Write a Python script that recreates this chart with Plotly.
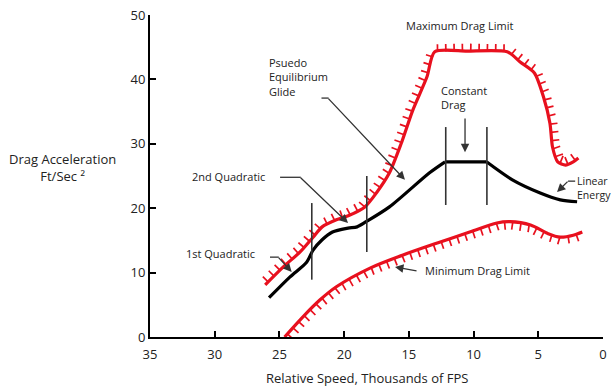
import math
import plotly.graph_objects as go

# ---------------- data ----------------
max_x = [26.1, 24.7, 23.4, 22.4, 21.7, 20.6, 19.6, 18.4, 17.5, 16.5, 15.6, 14.7, 13.6, 13.0, 10.5, 7.4, 6.4, 5.3, 4.6, 4.1, 3.9, 3.5, 2.9, 2.3, 1.9]
max_y = [8.1, 10.9, 13.2, 15.5, 17.1, 18.2, 18.9, 20.2, 22.4, 25.5, 30.0, 35.2, 40.4, 44.3, 44.4, 44.3, 42.7, 41.0, 37.3, 33.2, 29.5, 27.2, 26.7, 27.2, 27.8]

min_x = [24.6, 23.2, 21.9, 20.6, 18.0, 15.5, 12.8, 10.3, 8.2, 7.2, 5.6, 4.3, 3.3, 2.3, 1.6]
min_y = [0.0, 3.1, 5.7, 7.8, 10.7, 12.7, 14.6, 16.3, 17.7, 17.9, 17.4, 16.1, 15.5, 15.8, 16.3]

glide_x = [25.8, 24.2, 22.9, 22.4, 21.7, 20.9, 19.7, 19.0, 18.3, 16.5, 13.4, 12.2]
glide_y = [6.1, 9.3, 11.6, 13.5, 15.1, 16.3, 16.9, 17.1, 17.9, 20.2, 25.5, 27.2]
const_x = [12.2, 9.0]
const_y = [27.2, 27.2]
energy_x = [9.0, 7.0, 4.9, 3.3, 2.0]
energy_y = [27.2, 24.4, 22.4, 21.3, 21.0]

# phase boundaries (x, y_bottom, y_top)
bound_x = [22.5, 18.25, 12.15, 8.97]
bound_y0 = [8.9, 13.2, 20.5, 20.5]
bound_y1 = [20.8, 25.0, 32.6, 32.6]

x_ticks = [35, 30, 25, 20, 15, 10, 5, 0]
y_ticks = [0, 10, 20, 30, 40, 50]

# ---------------- layout geometry ----------------
W, H = 612, 387
ML, MR, MT, MB = 150, 9, 15, 50
PW, PH = W - ML - MR, H - MT - MB
X0, X1 = 35, 0
Y0, Y1 = 0, 50

RED = "#e8101e"
FONT = "Open Sans"


def to_px(x, y):
    return (X0 - x) / (X0 - X1) * PW, (Y1 - y) / (Y1 - Y0) * PH


def to_data(px, py):
    return X0 - px / PW * (X0 - X1), Y1 - py / PH * (Y1 - Y0)


def hatch(xs, ys, side, spacing=8.3, length=7.5):
    pts = [to_px(a, b) for a, b in zip(xs, ys)]
    segs = []
    total = 0.0
    for (ax, ay), (bx, by) in zip(pts[:-1], pts[1:]):
        L = math.hypot(bx - ax, by - ay)
        segs.append((ax, ay, bx, by, L, total))
        total += L
    hx, hy = [], []
    s = spacing / 2
    while s < total:
        for ax, ay, bx, by, L, st in segs:
            if st <= s <= st + L and L > 0:
                t = (s - st) / L
                px, py = ax + t * (bx - ax), ay + t * (by - ay)
                dx, dy = (bx - ax) / L, (by - ay) / L
                nx, ny = dy * side, -dx * side
                ex, ey = px + nx * length, py + ny * length
                d0 = to_data(px, py)
                d1 = to_data(ex, ey)
                hx += [d0[0], d1[0], None]
                hy += [d0[1], d1[1], None]
                break
        s += spacing
    return hx, hy


fig = go.Figure()

hx, hy = hatch(max_x, max_y, 1)
fig.add_trace(go.Scatter(x=hx, y=hy, mode="lines", line=dict(color=RED, width=1.7), hoverinfo="skip"))
hx, hy = hatch(min_x, min_y, -1)
fig.add_trace(go.Scatter(x=hx, y=hy, mode="lines", line=dict(color=RED, width=1.7), hoverinfo="skip"))

fig.add_trace(go.Scatter(x=max_x, y=max_y, mode="lines",
                         line=dict(color=RED, width=3.2, shape="spline", smoothing=0.7)))
fig.add_trace(go.Scatter(x=min_x, y=min_y, mode="lines",
                         line=dict(color=RED, width=3.2, shape="spline", smoothing=0.9)))

fig.add_trace(go.Scatter(x=glide_x, y=glide_y, mode="lines",
                         line=dict(color="black", width=3.2, shape="spline", smoothing=0.8)))
fig.add_trace(go.Scatter(x=const_x, y=const_y, mode="lines",
                         line=dict(color="black", width=3.2)))
fig.add_trace(go.Scatter(x=energy_x, y=energy_y, mode="lines",
                         line=dict(color="black", width=3.2, shape="spline", smoothing=0.8)))

for bx, b0, b1 in zip(bound_x, bound_y0, bound_y1):
    fig.add_shape(type="line", x0=bx, x1=bx, y0=b0, y1=b1, xref="x", yref="y",
                  line=dict(color="#333333", width=1.6))

LEAD = "#333333"
tfont = dict(family=FONT, size=11, color="#222222")


def leader(x0, x1, y):
    fig.add_shape(type="line", x0=x0, x1=x1, y0=y, y1=y, xref="x", yref="y",
                  line=dict(color=LEAD, width=1.3))


def arrow(xs, ys, xe, ye):
    fig.add_annotation(x=xe, y=ye, ax=xs, ay=ys, xref="x", yref="y", axref="x", ayref="y",
                       text="", showarrow=True, arrowhead=2, arrowsize=1.3, arrowwidth=1.3,
                       arrowcolor=LEAD, standoff=0, startstandoff=0, borderpad=0,
                       font=dict(size=1))


def label(x, y, text, xanchor="left", align="left", font=tfont):
    fig.add_annotation(x=x, y=y, xref="x", yref="y", text=text, showarrow=False,
                       xanchor=xanchor, yanchor="middle", align=align, font=font)


label(11.05, 48.4, "Maximum Drag Limit", xanchor="center", align="center")

label(25.96, 40.4, "Psuedo<br>Equilibrium<br>Glide")
leader(21.75, 21.2, 37.1)
arrow(21.25, 37.1, 15.3, 24.4)

label(12.67, 37.2, "Constant<br>Drag")
arrow(10.66, 34.0, 10.66, 28.7)

label(25.96, 24.9, "2nd Quadratic", xanchor="right", align="right")
leader(24.95, 23.35, 24.8)
arrow(23.4, 24.8, 19.7, 17.7)

label(26.73, 12.9, "1st Quadratic", xanchor="right", align="right")
leader(25.73, 25.05, 12.4)
arrow(25.1, 12.4, 24.05, 10.1)

label(13.9, 10.25, "Minimum Drag Limit")
arrow(14.37, 10.25, 16.07, 10.87)

label(2.15, 23.1, "Linear<br>Energy", font=dict(family=FONT, size=10.5, color="#222222"))
leader(2.15, 2.7, 24.2)
arrow(2.7, 24.2, 3.55, 22.5)

# y-axis title (horizontal, to the left of the axis)
fig.add_annotation(x=(62 - ML) / PW, y=(MT + PH - 167) / PH, xref="paper", yref="paper",
                   text="Drag Acceleration<br>Ft/Sec \u00b2", showarrow=False,
                   xanchor="center", yanchor="middle", align="center",
                   font=dict(family=FONT, size=13, color="#222222"))

# x-axis title
fig.add_annotation(x=(367 - ML) / PW, y=-(378 - MT - PH) / PH, xref="paper", yref="paper",
                   text="Relative Speed, Thousands of FPS", showarrow=False,
                   xanchor="center", yanchor="middle",
                   font=dict(family=FONT, size=13, color="#222222"))

axis_common = dict(showline=True, linecolor="black", linewidth=2, ticks="inside",
                   ticklen=6, tickwidth=2, tickcolor="black", showgrid=False, zeroline=False,
                   automargin=False,
                   tickfont=dict(family=FONT, size=13, color="#222222"))

fig.update_layout(
    width=W, height=H,
    margin=dict(l=ML, r=MR, t=MT, b=MB, pad=0),
    paper_bgcolor="white", plot_bgcolor="white",
    showlegend=False,
    xaxis=dict(range=[X0, X1], tickvals=x_ticks, ticktext=[str(v) for v in x_ticks],
               ticklabelstandoff=4, **axis_common),
    yaxis=dict(range=[Y0, Y1], tickvals=y_ticks, ticktext=[str(v) for v in y_ticks],
               **axis_common),
)

fig.write_html("out.html")
